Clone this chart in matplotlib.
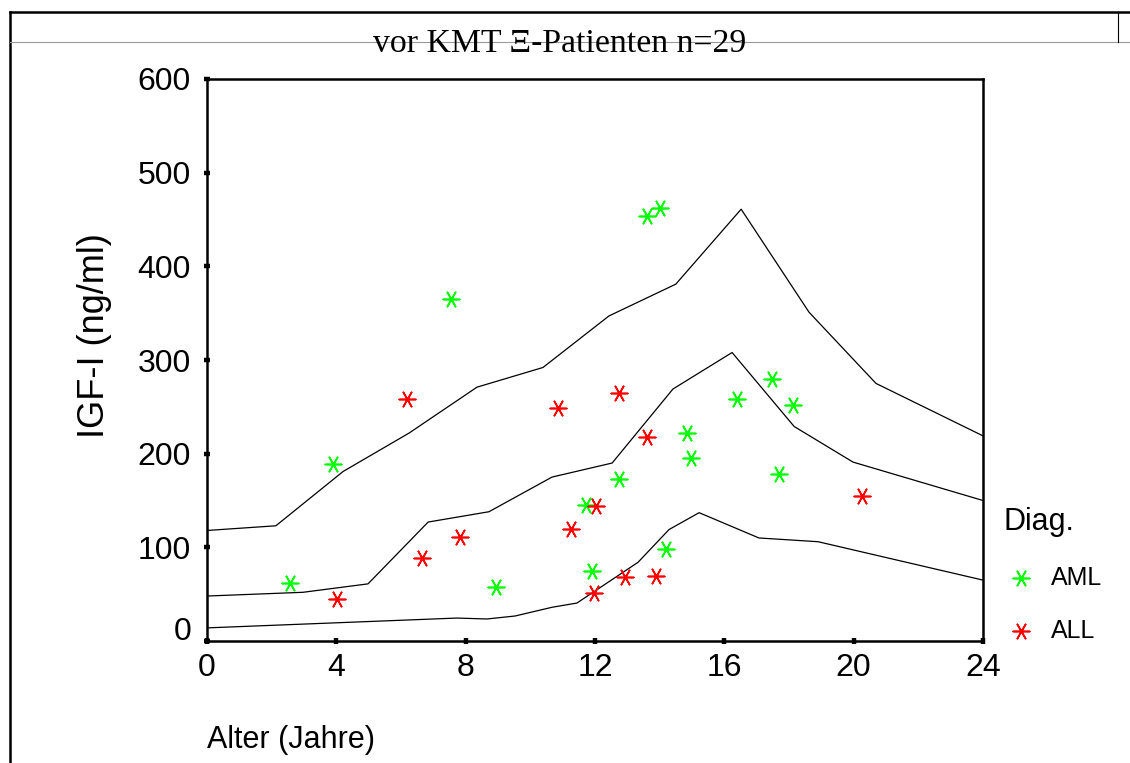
import matplotlib
matplotlib.use("Agg")
import matplotlib.pyplot as plt
from matplotlib.lines import Line2D
from matplotlib.transforms import ScaledTranslation

# ---- data ----
aml_age = [2.57, 3.90, 7.55, 8.94, 11.72, 11.91, 12.74, 13.60, 14.00, 14.20,
           14.85, 14.97, 16.39, 17.48, 17.70, 18.13]
aml_igf = [62, 189, 365, 58, 145, 75, 173, 454, 462, 98,
           222, 195, 258, 280, 178, 252]

all_age = [4.02, 6.19, 6.65, 7.83, 10.86, 11.26, 11.97, 12.03, 12.74, 12.93,
           13.60, 13.89, 20.26]
all_igf = [45, 258, 89, 111, 249, 120, 51, 144, 265, 68,
           218, 69, 155]

upper_age = [0, 2.13, 4.21, 6.25, 8.35, 10.39, 12.43, 14.50, 16.52, 18.62, 20.69, 24]
upper_igf = [118, 123, 181, 222, 271, 292, 347, 381, 461, 351, 275, 219]

mid_age = [0, 2.97, 4.98, 6.84, 8.72, 10.67, 12.53, 14.41, 16.24, 18.16, 19.98, 24]
mid_igf = [48, 52, 61, 127, 138, 175, 190, 269, 308, 229, 191, 150]

low_age = [0, 7.73, 8.66, 9.53, 10.67, 11.44, 13.33, 14.29, 15.22, 17.07, 18.90, 24]
low_igf = [14, 24.5, 23.5, 26.7, 36, 40.5, 84, 119, 137, 110, 106, 65]

x_ticks = [0, 4, 8, 12, 16, 20, 24]
y_ticks = [0, 100, 200, 300, 400, 500, 600]

title = "vor KMT \u039e-Patienten n=29"
xlabel = "Alter (Jahre)"
ylabel = "IGF-I (ng/ml)"
legend_title = "Diag."
labels = ["AML", "ALL"]

# ---- figure ----
W, H = 1130, 763
fig = plt.figure(figsize=(W / 100, H / 100), dpi=100)
plt.rcParams['font.family'] = ['Liberation Sans', 'DejaVu Sans']

ax = fig.add_axes([207 / W, 1 - 641 / H, (983 - 207) / W, (641 - 79) / H])

for xs, ys in [(upper_age, upper_igf), (mid_age, mid_igf), (low_age, low_igf)]:
    ax.plot(xs, ys, color="black", lw=0.9, zorder=2)

mk = (6, 2, 90)
h_aml = ax.scatter(aml_age, aml_igf, marker=mk, s=140, color="#00ff00",
                   linewidths=1.2, zorder=3)
h_all = ax.scatter(all_age, all_igf, marker=mk, s=140, color="#ff0000",
                   linewidths=1.2, zorder=3)

ax.set_xlim(0, 24)
ax.set_ylim(0, 600)
ax.set_xticks(x_ticks)
ax.set_yticks(y_ticks)
ax.set_xticklabels([str(v) for v in x_ticks])
ax.set_yticklabels([str(v) for v in y_ticks])
ax.tick_params(direction="inout", length=5, width=3.2, labelsize=23, pad=6)
ax.tick_params(axis="y", pad=9)
for s in ax.spines.values():
    s.set_linewidth(1.8)

# shift the "0" y label upwards like the original
lab0 = ax.get_yticklabels()[0]
lab0.set_transform(lab0.get_transform() + ScaledTranslation(0, 13 / 100, fig.dpi_scale_trans))

fig.text(207 / W, 1 - 740 / H, xlabel, ha="left", va="center", fontsize=22)
fig.text(95 / W, 1 - 336 / H, ylabel, ha="center", va="center", rotation=90, fontsize=26)

fig.text(560 / W, 1 - 52 / H, title, ha="center", va="baseline", fontsize=24.3,
         family=["Liberation Serif", "DejaVu Serif"])

leg = fig.legend([h_aml, h_all], labels, title=legend_title, loc="upper left",
                 bbox_to_anchor=(993 / W, 1 - 497 / H), frameon=False,
                 fontsize=18, title_fontsize=22, labelspacing=1.15,
                 handletextpad=0.5, handlelength=1.4, borderaxespad=0)
leg._legend_box.align = "left"

# outer frame lines
fig.add_artist(Line2D([10 / W, 1], [1 - 12 / H, 1 - 12 / H], color="black", lw=1.8))
fig.add_artist(Line2D([10 / W, 10 / W], [0, 1 - 12 / H], color="black", lw=1.8))
fig.add_artist(Line2D([10 / W, 1], [1 - 42 / H, 1 - 42 / H], color="#999999", lw=0.8))
fig.add_artist(Line2D([1118 / W, 1118 / W], [1 - 12 / H, 1 - 42 / H], color="black", lw=0.8))

fig.savefig("out.png", dpi=100)
